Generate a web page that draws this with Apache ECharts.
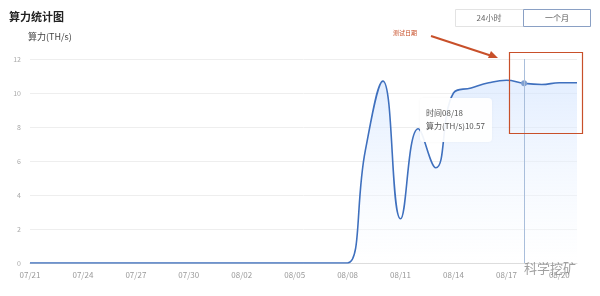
<!DOCTYPE html>
<html><head><meta charset="utf-8">
<script src="https://cdn.jsdelivr.net/npm/echarts@6/dist/echarts.min.js"></script>
<style>html,body{margin:0;padding:0;background:#fff}#c{width:600px;height:296px}</style>
</head><body><div id="c"></div>
<script>
const dates = ['07/21','07/22','07/23','07/24','07/25','07/26','07/27','07/28','07/29','07/30','07/31','08/01','08/02','08/03','08/04','08/05','08/06','08/07','08/08','08/09','08/10','08/11','08/12','08/13','08/14','08/15','08/16','08/17','08/18','08/19','08/20','08/21'];
const hashrate = [0,0,0,0,0,0,0,0,0,0,0,0,0,0,0,0,0,0,0,6.6,10.7,2.6,7.9,5.6,10.0,10.3,10.6,10.75,10.57,10.5,10.6,10.6];
const yTicks = [0,2,4,6,8,10,12];
const FONT = '"Noto Sans CJK SC","Noto Sans",sans-serif';
const chart = echarts.init(document.getElementById('c'));
chart.setOption({
  animation: false,
  textStyle: {fontFamily: FONT},
  grid: {left: 30, right: 23, top: 59, bottom: 33},
  title: {text: '算力统计图', left: 4, top: 6, textStyle: {fontSize: 11, fontWeight: 'bold', color: '#222', fontFamily: FONT}},
  tooltip: {
    trigger: 'axis', transitionDuration: 0, alwaysShowContent: true,
    position: [420, 98],
    backgroundColor: 'rgba(255,255,255,0.92)', borderColor: 'rgba(255,255,255,0)', borderWidth: 0,
    padding: [8, 6],
    extraCssText: 'box-shadow:0 0 3px rgba(0,0,0,0.04);width:60px;height:28px;line-height:13px;',
    textStyle: {fontSize: 8, color: '#555', fontFamily: FONT},
    axisPointer: {type: 'line', lineStyle: {color: '#a9bedb', width: 1, type: 'solid'}},
    formatter: p => '时间' + p[0].axisValue + '<br/>算力(TH/s)' + p[0].value
  },
  xAxis: {
    type: 'category', data: dates, boundaryGap: false,
    axisLine: {lineStyle: {color: '#ddd'}}, axisTick: {show: false},
    axisLabel: {interval: 2, color: '#999', fontSize: 8, margin: 8, fontFamily: FONT}
  },
  yAxis: {
    type: 'value', min: yTicks[0], max: yTicks[yTicks.length-1], interval: 2,
    name: '算力(TH/s)', nameLocation: 'end', nameGap: 18,
    nameTextStyle: {fontSize: 9, color: '#444', align: 'left', padding: [0, 0, 0, -2], fontFamily: FONT},
    axisLine: {show: false}, axisTick: {show: false},
    axisLabel: {color: '#aaa', fontSize: 7, margin: 9, fontFamily: FONT},
    splitLine: {lineStyle: {color: '#eee'}}
  },
  series: [{
    type: 'line', data: hashrate, smooth: 0.45, showSymbol: false,
    symbol: 'circle', symbolSize: 4,
    lineStyle: {color: '#3a66ad', width: 1.6},
    itemStyle: {color: '#7f9fd0'},
    areaStyle: {color: new echarts.graphic.LinearGradient(0,0,0,1,[{offset:0,color:'rgba(190,207,240,0.85)'},{offset:1,color:'rgba(240,244,252,0.5)'}])}
  }],
  graphic: [
    {type:'rect', shape:{x:455.5,y:9.5,width:68,height:17}, style:{fill:'#fff', stroke:'#e3e3e3', lineWidth:1}},
    {type:'text', style:{x:489, y:18, text:'24小时', fontSize:8, fill:'#666', align:'center', verticalAlign:'middle', fontFamily: FONT}},
    {type:'rect', shape:{x:523.5,y:9.5,width:67,height:17}, style:{fill:'#fff', stroke:'#8aa0c4', lineWidth:1}},
    {type:'text', style:{x:557, y:18, text:'一个月', fontSize:8, fill:'#555', align:'center', verticalAlign:'middle', fontFamily: FONT}},
    {type:'text', style:{x:393, y:33, text:'测试日期', fontSize:6, fill:'#c8502a', verticalAlign:'middle', fontFamily: FONT}},
    {type:'line', shape:{x1:431,y1:36,x2:492,y2:56}, style:{stroke:'#c8502a', lineWidth:2}},
    {type:'polygon', shape:{points:[[498,58],[488,58],[491,51]]}, style:{fill:'#c8502a'}},
    {type:'rect', shape:{x:509.5,y:52.5,width:73,height:81}, style:{fill:'none', stroke:'#c8502a', lineWidth:1.2}, z:100},
    {type:'text', style:{x:524, y:268, text:'科学挖矿', fontSize:13, fill:'rgba(120,120,120,0.7)', verticalAlign:'middle', fontFamily: FONT}, z:100}
  ]
});
chart.dispatchAction({type:'showTip', seriesIndex:0, dataIndex:28});
</script></body></html>
